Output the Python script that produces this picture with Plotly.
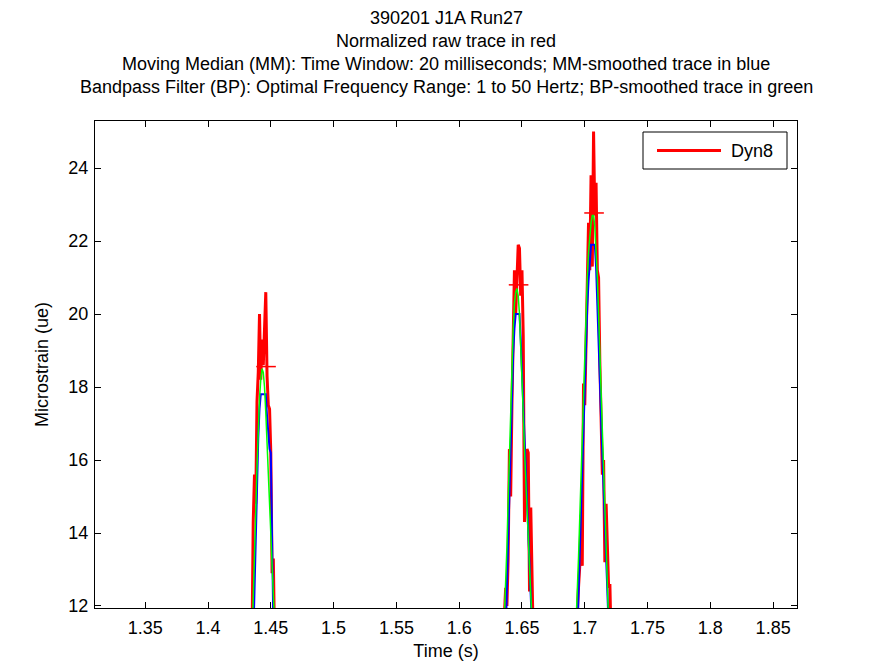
import plotly.graph_objects as go

# ---- data (1 ms samples) ----
dt = 0.001

peak1_start = 1.435
peak1_raw = [11.0, 14.3, 15.6, 14.8, 17.6, 18.4, 20.0, 18.2, 19.3, 18.6, 19.6, 20.6, 18.3, 17.5, 17.4, 16.2, 12.9, 13.3, 11.0]
peak1_mm = [10.5, 11.0, 12.4, 14.0, 15.5, 16.6, 17.4, 17.8, 17.8, 17.8, 17.8, 17.8, 17.2, 16.7, 16.3, 16.2, 13.0, 11.5, 11.0]
peak1_bp = [11.0, 12.0, 13.3, 14.6, 15.8, 16.9, 17.7, 18.2, 18.5, 18.4, 18.0, 17.3, 16.4, 15.5, 14.6, 13.8, 13.0, 12.2, 11.5]

peak2_start = 1.635
peak2_raw = [11.0, 12.0, 12.5, 12.0, 13.3, 16.3, 15.0, 17.5, 19.4, 21.2, 20.0, 21.3, 21.9, 21.8, 20.5, 21.2, 19.4, 14.3, 15.5, 16.3, 16.2, 12.4, 14.7, 12.4, 11.0]
peak2_mm = [10.5, 10.8, 11.0, 12.5, 13.8, 15.2, 16.5, 17.8, 18.9, 19.6, 20.0, 20.0, 20.0, 20.0, 19.3, 18.4, 17.4, 16.4, 15.5, 14.6, 13.8, 13.0, 12.4, 11.0, 10.5]
peak2_bp = [10.8, 11.6, 12.5, 13.6, 14.9, 16.2, 17.5, 18.7, 19.6, 20.3, 20.6, 20.7, 20.5, 20.0, 19.2, 18.3, 17.3, 16.3, 15.4, 14.6, 13.8, 13.0, 12.3, 11.6, 10.8]

peak3_start = 1.693
peak3_raw = [11.0, 12.0, 12.5, 13.1, 14.5, 13.1, 18.1, 17.5, 19.4, 20.5, 22.5, 21.2, 23.8, 21.3, 25.0, 22.7, 23.6, 21.2, 21.0, 18.7, 16.8, 15.6, 16.0, 13.2, 14.8, 13.4, 12.5, 12.6, 11.0]
peak3_mm = [10.5, 11.0, 12.3, 13.5, 14.8, 16.0, 17.2, 18.3, 19.3, 20.2, 20.9, 21.5, 21.9, 21.9, 21.9, 21.9, 21.3, 20.4, 19.3, 18.2, 17.1, 16.0, 14.9, 13.8, 12.8, 11.8, 11.0, 10.5, 10.5]
peak3_bp = [11.5, 12.3, 13.3, 14.4, 15.6, 16.8, 18.0, 19.1, 20.1, 21.0, 21.7, 22.2, 22.5, 22.7, 22.7, 22.4, 21.8, 21.0, 20.0, 18.9, 17.7, 16.5, 15.3, 14.2, 13.2, 12.3, 11.5, 10.8, 10.5]

marker_t = [1.4462, 1.6473, 1.7074]
marker_v = [18.56, 20.8, 22.77]

x_ticks = [1.35, 1.4, 1.45, 1.5, 1.55, 1.6, 1.65, 1.7, 1.75, 1.8, 1.85]
x_labels = ["1.35", "1.4", "1.45", "1.5", "1.55", "1.6", "1.65", "1.7", "1.75", "1.8", "1.85"]
y_ticks = [12, 14, 16, 18, 20, 22, 24]

series_name = "Dyn8"
title_lines = [
    "390201 J1A Run27",
    "Normalized raw trace in red",
    "Moving Median (MM): Time Window: 20 milliseconds; MM-smoothed trace in blue",
    "Bandpass Filter (BP): Optimal Frequency Range: 1 to 50 Hertz; BP-smoothed trace in green",
]


def join(peaks):
    xs, ys = [], []
    for start, vals in peaks:
        xs += [start + i * dt for i in range(len(vals))] + [None]
        ys += list(vals) + [None]
    return xs, ys


rx, ry = join([(peak1_start, peak1_raw), (peak2_start, peak2_raw), (peak3_start, peak3_raw)])
bx, by = join([(peak1_start, peak1_mm), (peak2_start, peak2_mm), (peak3_start, peak3_mm)])
gx, gy = join([(peak1_start, peak1_bp), (peak2_start, peak2_bp), (peak3_start, peak3_bp)])

RED, BLUE, GREEN = "#ff0000", "#0000ff", "#00ff00"

fig = go.Figure()
fig.add_trace(go.Scatter(x=rx, y=ry, mode="lines", name=series_name, showlegend=False,
                         line=dict(color=RED, width=3), connectgaps=False))
fig.add_trace(go.Scatter(x=marker_t, y=marker_v, mode="markers", showlegend=False,
                         marker=dict(symbol="line-ew", size=14, line=dict(color=RED, width=1.5))))
fig.add_trace(go.Scatter(x=bx, y=by, mode="lines", showlegend=False,
                         line=dict(color=BLUE, width=2), connectgaps=False))
fig.add_trace(go.Scatter(x=gx, y=gy, mode="lines", showlegend=False,
                         line=dict(color=GREEN, width=1.5), connectgaps=False))

font_family = "Liberation Sans, Arial, sans-serif"
FS = 18

# plot area in pixels
L, R, T, B = 95, 797, 121, 608
W, H = R - L, B - T


def px_x(p):
    return (p - L) / W


def px_y(p):
    return (B - p) / H


title_y_px = [18, 41, 64, 87]
for txt, ypx in zip(title_lines, title_y_px):
    fig.add_annotation(text=txt, xref="paper", yref="paper", x=0.5, y=px_y(ypx),
                       xanchor="center", yanchor="middle", showarrow=False,
                       font=dict(size=FS, color="black", family=font_family))

# legend box (MATLAB style)
fig.add_shape(type="rect", xref="paper", yref="paper",
              x0=px_x(643), x1=px_x(787), y0=px_y(169), y1=px_y(132),
              line=dict(color="black", width=1), fillcolor="white", layer="above")
fig.add_shape(type="line", xref="paper", yref="paper",
              x0=px_x(657), x1=px_x(721), y0=px_y(150.5), y1=px_y(150.5),
              line=dict(color=RED, width=3), layer="above")
fig.add_annotation(text=series_name, xref="paper", yref="paper", x=px_x(729), y=px_y(150.5),
                   xanchor="left", yanchor="middle", showarrow=False,
                   font=dict(size=FS, color="black", family=font_family))

axis_common = dict(showline=True, linecolor="black", linewidth=1, mirror="ticks",
                   ticks="inside", ticklen=6, tickcolor="black", showgrid=False,
                   zeroline=False, automargin=False,
                   tickfont=dict(size=FS, color="black", family=font_family))

fig.update_layout(
    width=876, height=666,
    margin=dict(l=L, r=876 - R, t=T, b=666 - B),
    paper_bgcolor="white", plot_bgcolor="white",
    font=dict(family=font_family, size=FS, color="black"),
    xaxis=dict(range=[1.31, 1.869], tickvals=x_ticks, ticktext=x_labels,
               ticklabelstandoff=3,
               title=dict(text="Time (s)", font=dict(size=FS), standoff=7), **axis_common),
    yaxis=dict(range=[11.945, 25.29], tickvals=y_ticks, ticklabelstandoff=2,
               title=dict(text="Microstrain (ue)", font=dict(size=FS), standoff=15), **axis_common),
    showlegend=False,
)

fig.write_html("out.html")
